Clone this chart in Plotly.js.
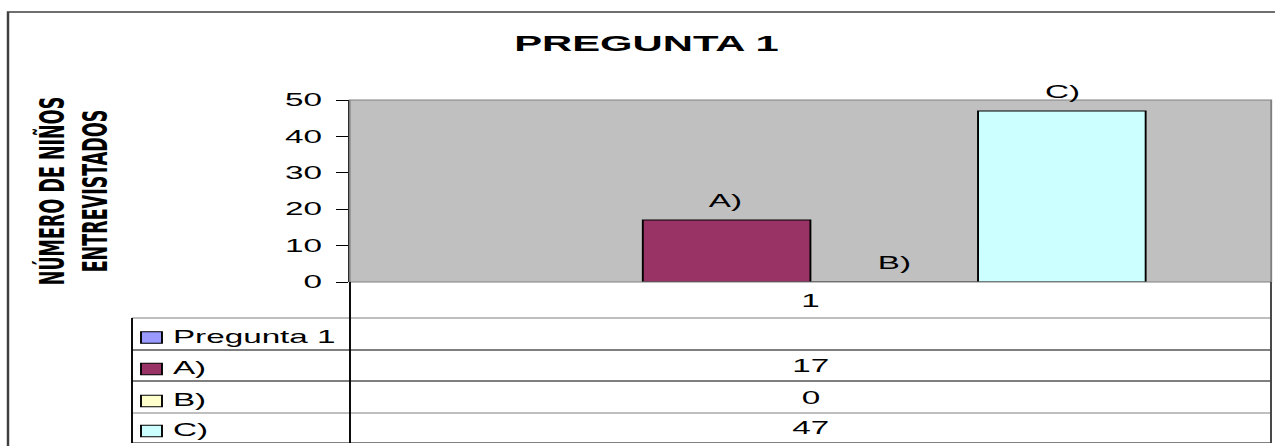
<!DOCTYPE html>
<html>
<head>
<meta charset="utf-8">
<script src="https://cdn.plot.ly/plotly-3.0.1.min.js"></script>
<style>
  html, body { margin: 0; padding: 0; background: #ffffff; overflow: hidden; }
  #wrap { width: 1275px; height: 446px; overflow: hidden; }
  #chart { width: 671px; height: 446px; transform: scaleX(1.900149); transform-origin: 0 0; }
</style>
</head>
<body>
<div id="wrap"><div id="chart"></div></div>
<script>
// ---- data ----
const categories = ['1'];
const seriesNames = ['Pregunta 1', 'A)', 'B)', 'C)'];
const seriesValues = [null, 17, 0, 47];
const yTickValues = [0, 10, 20, 30, 40, 50];
const chartTitle = 'PREGUNTA 1';
const yTitle = 'NÚMERO DE NIÑOS<br>ENTREVISTADOS';

// ---- styles ----
const seriesColors = ['#9999FF', '#993366', '#FFFFCC', '#CCFFFF'];
const S = 1275 / 671;          // horizontal stretch of the picture
const W = 671, H = 446;
const M = { l: 184, r: 2, t: 100, b: 164 };
const PW = W - M.l - M.r, PH = H - M.t - M.b;
const BARGAP = 0.2725;
const FONT = 'Liberation Sans, Arial, sans-serif';
const FS = 17.5;

// picture pixel -> paper coordinate helpers (layout only)
const px = x => (x / S - M.l) / PW;
const py = y => (M.t + PH - y) / PH;

const traces = seriesNames.map((name, i) => ({
  type: 'bar',
  name: name,
  x: categories,
  y: [seriesValues[i]],
  offsetgroup: String(i),
  marker: { color: seriesColors[i], line: { color: '#000000', width: 1 } },
  hoverinfo: 'none',
  showlegend: false
}));

const nSeries = seriesNames.length;
const slot = (1 - BARGAP) / nSeries;

const annotations = [];
// bar labels (series names above each bar)
seriesNames.forEach((name, i) => {
  if (seriesValues[i] === null) return;
  annotations.push({
    xref: 'x', yref: 'y',
    x: 0 + (i - (nSeries - 1) / 2) * slot,
    y: seriesValues[i],
    text: name, showarrow: false,
    xanchor: 'center', yanchor: 'bottom', yshift: 7,
    font: { family: FONT, size: FS, color: '#000000' }
  });
});

// data table rows
const rowCenters = [336, 367, 399, 429];
const keyCenters = [337.5, 369, 401, 431];
seriesNames.forEach((name, i) => {
  annotations.push({
    xref: 'paper', yref: 'paper',
    x: px(169), y: py(rowCenters[i] + 1),
    text: name, showarrow: false,
    xanchor: 'left', yanchor: 'middle',
    font: { family: FONT, size: FS, color: '#000000' }
  });
  annotations.push({
    xref: 'paper', yref: 'paper',
    x: px(810.5), y: py(rowCenters[i] - 1),
    text: seriesValues[i] === null ? '' : String(seriesValues[i]),
    showarrow: false,
    xanchor: 'center', yanchor: 'middle',
    font: { family: FONT, size: FS, color: '#000000' }
  });
});

const shapes = [];
// outer chart border
shapes.push({ type: 'rect', xref: 'paper', yref: 'paper',
  x0: px(8), x1: px(1300), y0: py(470), y1: py(12),
  line: { color: '#404040', width: 1.3 } });
// plot area border
shapes.push({ type: 'rect', xref: 'paper', yref: 'paper',
  x0: 0, x1: 1, y0: 0, y1: 1, line: { color: '#808080', width: 1 } });
// table lines
const hl = (y, x0, x1, c) => shapes.push({ type: 'line', xref: 'paper', yref: 'paper',
  x0: px(x0), x1: px(x1), y0: py(y), y1: py(y), line: { color: c, width: 1.2 } });
const vl = (x, y0, y1, c) => shapes.push({ type: 'line', xref: 'paper', yref: 'paper',
  x0: px(x), x1: px(x), y0: py(y0), y1: py(y1), line: { color: c, width: 1 } });
hl(318, 132, 1271, '#808080');
hl(350, 132, 1271, '#000000');
hl(381, 132, 1271, '#000000');
hl(413, 132, 1271, '#808080');
hl(442.5, 132, 1271, '#808080');
vl(350, 282, 443, '#000000');
vl(1271, 282, 443, '#404040');
vl(132, 318, 443, '#000000');
// legend keys
seriesColors.forEach((c, i) => {
  shapes.push({ type: 'rect', xref: 'paper', yref: 'paper',
    x0: px(141), x1: px(162), y0: py(keyCenters[i] + 5.8), y1: py(keyCenters[i] - 5.8),
    fillcolor: c, line: { color: '#000000', width: 1 } });
});

const layout = {
  width: W, height: H,
  margin: M,
  paper_bgcolor: '#ffffff',
  plot_bgcolor: '#C0C0C0',
  barmode: 'group',
  bargap: BARGAP,
  bargroupgap: 0,
  showlegend: false,
  title: {
    text: chartTitle,
    font: { family: FONT, size: 22, color: '#000000', weight: 'bold' },
    xref: 'container', yref: 'container',
    x: 646.5 / 1275, y: 1 - 43.5 / 446,
    xanchor: 'center', yanchor: 'middle'
  },
  xaxis: {
    type: 'category',
    range: [-0.5, 0.5],
    showgrid: false, zeroline: false, showline: false,
    ticks: '',
    ticklabelstandoff: 7,
    tickfont: { family: FONT, size: FS, color: '#000000' }
  },
  yaxis: {
    range: [0, 50],
    tickvals: yTickValues,
    ticktext: yTickValues.map(String),
    showgrid: false, zeroline: false,
    showline: true, linecolor: '#000000', linewidth: 1,
    ticks: 'outside', ticklen: 6, tickcolor: '#000000', tickwidth: 1,
    ticklabelstandoff: 4,
    tickfont: { family: FONT, size: FS, color: '#000000' },
    title: {
      text: yTitle,
      standoff: 88,
      font: { family: 'DejaVu Sans, sans-serif', size: 17.5, color: '#000000', weight: 'bold' }
    }
  },
  annotations: annotations,
  shapes: shapes
};

Plotly.newPlot('chart', traces, layout, { staticPlot: true, displayModeBar: false });
</script>
</body>
</html>
